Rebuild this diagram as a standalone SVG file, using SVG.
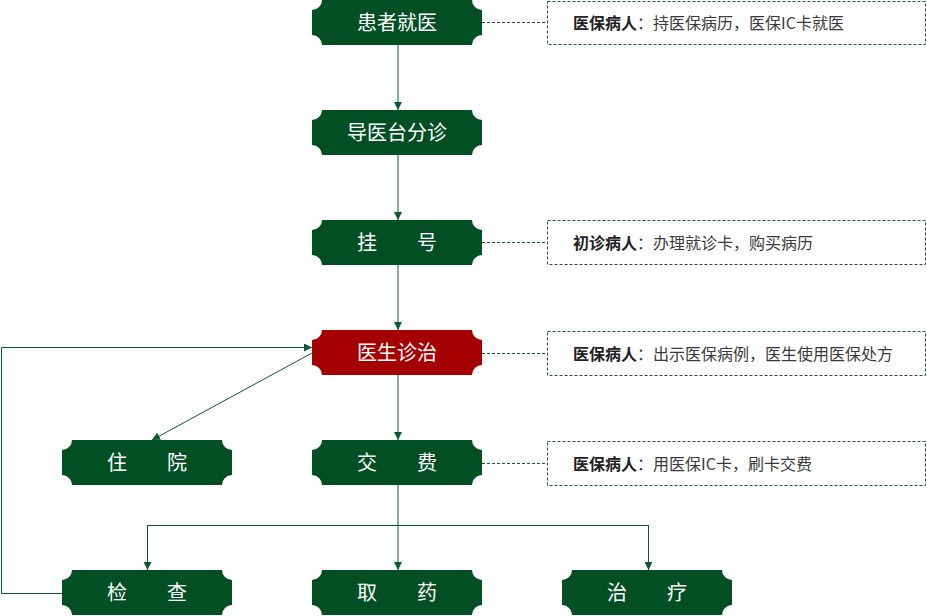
<svg xmlns="http://www.w3.org/2000/svg" width="927" height="616" viewBox="0 0 927 616">
<style>
.nd{fill:#034f24}
.red{fill:#a50000}
.nt{font-family:"Noto Sans CJK SC","Noto Sans",sans-serif;font-size:20px;fill:#ffffff;text-anchor:middle}
.ln{fill:none;stroke:#0b5a2f;stroke-width:1}
.dl{fill:none;stroke:#1d5a2e;stroke-width:1;stroke-dasharray:3,2}
.bx{fill:#ffffff;stroke:#1d5a2e;stroke-width:1;stroke-dasharray:3,2}
.bt{font-family:"Noto Sans CJK SC","Noto Sans",sans-serif;font-size:16px;fill:#3a3a3a}
.b{font-weight:bold;fill:#222222}
</style>
<defs>
<path id="shape" d="M10,0 H160 A10,10 0 0 0 170,10 V35 A10,10 0 0 0 160,45 H10 A10,10 0 0 0 0,35 V10 A10,10 0 0 0 10,0 Z"/>
<marker id="ah" markerUnits="userSpaceOnUse" markerWidth="8" markerHeight="8" refX="8" refY="4" orient="auto">
<path d="M0,0 L8,4 L0,8 Z" fill="#0b5a2f"/>
</marker>
</defs>
<g id="connectors">
<line class="ln" x1="398" y1="45" x2="398" y2="110" marker-end="url(#ah)"/>
<line class="ln" x1="398" y1="155" x2="398" y2="220" marker-end="url(#ah)"/>
<line class="ln" x1="398" y1="265" x2="398" y2="330" marker-end="url(#ah)"/>
<line class="ln" x1="398" y1="375" x2="398" y2="440" marker-end="url(#ah)"/>
<line class="ln" x1="398" y1="485" x2="398" y2="570" marker-end="url(#ah)"/>
<line class="ln" x1="147.5" y1="525.5" x2="648.5" y2="525.5"/>
<line class="ln" x1="147.5" y1="525" x2="147.5" y2="570" marker-end="url(#ah)"/>
<line class="ln" x1="648.5" y1="525" x2="648.5" y2="570" marker-end="url(#ah)"/>
<line class="ln" x1="312" y1="353" x2="152" y2="440" marker-end="url(#ah)"/>
<path class="ln" d="M62,593.5 H1.5 V347.5 H312" marker-end="url(#ah)"/>
<line class="dl" x1="482" y1="22.5" x2="547" y2="22.5"/>
<line class="dl" x1="482" y1="242.5" x2="547" y2="242.5"/>
<line class="dl" x1="482" y1="353.5" x2="547" y2="353.5"/>
<line class="dl" x1="482" y1="463.5" x2="547" y2="463.5"/>
</g>
<g id="n1"><use href="#shape" class="nd" x="312" y="0"/><text class="nt" x="397" y="30">患者就医</text></g>
<g id="n2"><use href="#shape" class="nd" x="312" y="110"/><text class="nt" x="397" y="140">导医台分诊</text></g>
<g id="n3"><use href="#shape" class="nd" x="312" y="220"/><text class="nt" x="397" y="250">挂　　号</text></g>
<g id="n4"><use href="#shape" class="red" x="312" y="330"/><text class="nt" x="397" y="360">医生诊治</text></g>
<g id="n5"><use href="#shape" class="nd" x="62" y="440"/><text class="nt" x="147" y="470">住　　院</text></g>
<g id="n6"><use href="#shape" class="nd" x="312" y="440"/><text class="nt" x="397" y="470">交　　费</text></g>
<g id="n7"><use href="#shape" class="nd" x="62" y="570"/><text class="nt" x="147" y="600">检　　查</text></g>
<g id="n8"><use href="#shape" class="nd" x="312" y="570"/><text class="nt" x="397" y="600">取　　药</text></g>
<g id="n9"><use href="#shape" class="nd" x="562" y="570"/><text class="nt" x="647" y="600">治　　疗</text></g>
<g id="note1"><rect class="bx" x="547.5" y="1.5" width="378" height="43"/><text class="bt" x="573" y="28.5"><tspan class="b">医保病人</tspan>：持医保病历，医保IC卡就医</text></g>
<g id="note2"><rect class="bx" x="547.5" y="220.5" width="378" height="44"/><text class="bt" x="573" y="248.5"><tspan class="b">初诊病人</tspan>：办理就诊卡，购买病历</text></g>
<g id="note3"><rect class="bx" x="547.5" y="331.5" width="378" height="44"/><text class="bt" x="573" y="359.5"><tspan class="b">医保病人</tspan>：出示医保病例，医生使用医保处方</text></g>
<g id="note4"><rect class="bx" x="547.5" y="441.5" width="378" height="44"/><text class="bt" x="573" y="469.5"><tspan class="b">医保病人</tspan>：用医保IC卡，刷卡交费</text></g>
</svg>
